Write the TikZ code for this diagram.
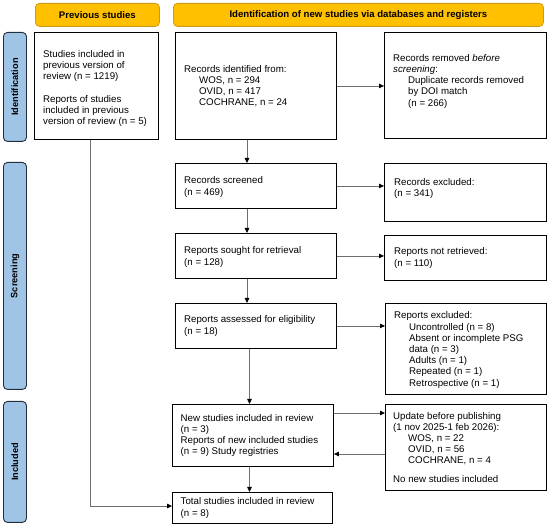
\documentclass[tikz,border=0pt]{standalone}
\usepackage{fontspec}
\setmainfont{Liberation Sans}
\usetikzlibrary{arrows.meta}
\definecolor{hdrfill}{RGB}{255,192,0}
\definecolor{hdrline}{RGB}{205,155,25}
\definecolor{phfill}{RGB}{160,196,230}
\definecolor{phline}{RGB}{35,45,60}
\definecolor{conn}{RGB}{110,110,110}
\tikzset{
  box/.style={draw=black, line width=0.9pt, fill=white, inner sep=0pt, anchor=north west},
  hdr/.style={draw=hdrline, fill=hdrfill, line width=0.8pt, rounded corners=4pt, inner sep=0pt, anchor=north west,
    font=\fontsize{9.6pt}{11pt}\selectfont\bfseries},
  phase/.style={draw=phline, fill=phfill, line width=0.9pt, rounded corners=4pt, inner sep=0pt, anchor=north west},
  phtxt/.style={rotate=90, font=\fontsize{9.2pt}{11pt}\selectfont\bfseries, inner sep=0pt},
  txt/.style={align=left, inner sep=0pt, font=\fontsize{9.7pt}{11.2pt}\selectfont},
  arr/.style={draw=conn, line width=0.8pt, -{Triangle[length=5pt,width=4.5pt,color=black]}},
}
\newcommand{\ind}{\hspace*{15pt}}
\begin{document}
\begin{tikzpicture}[x=1pt,y=-1pt]
\useasboundingbox (0,0) rectangle (550,526);
% headers
\node[hdr, minimum width=124pt, minimum height=23pt] (hprev) at (35,3) {Previous studies};
\node[hdr, minimum width=370pt, minimum height=23pt] (hnew) at (173,3) {Identification of new studies via databases and registers};
% phases
\node[phase, minimum width=23pt, minimum height=109pt] (pid) at (3,32) {};
\node[phtxt] (pidt) at (pid.center) {Identification};
\node[phase, minimum width=23pt, minimum height=227pt] (psc) at (3,162) {};
\node[phtxt] (psct) at (psc.center) {Screening};
\node[phase, minimum width=23pt, minimum height=121pt] (pin) at (3,401) {};
\node[phtxt] (pint) at (pin.center) {Included};
% boxes
\node[box, minimum width=124pt, minimum height=107pt] (prev) at (34,32) {};
\node[box, minimum width=161pt, minimum height=107pt] (ident) at (175,32) {};
\node[box, minimum width=162pt, minimum height=106pt] (removed) at (384,32) {};
\node[box, minimum width=161pt, minimum height=45pt] (screened) at (175,163) {};
\node[box, minimum width=162pt, minimum height=58pt] (excl) at (384,163) {};
\node[box, minimum width=161pt, minimum height=45pt] (sought) at (175,233) {};
\node[box, minimum width=162pt, minimum height=45pt] (notret) at (384,235) {};
\node[box, minimum width=161pt, minimum height=45pt] (assessed) at (175,303) {};
\node[box, minimum width=161pt, minimum height=91pt] (repexcl) at (385,303) {};
\node[box, minimum width=161pt, minimum height=62pt] (newst) at (172,404) {};
\node[box, minimum width=161pt, minimum height=86pt] (update) at (385,404) {};
\node[box, minimum width=160pt, minimum height=31pt] (total) at (172,492) {};
% texts
\node[txt, anchor=west] (prevt) at ([xshift=9pt,yshift=-2.5pt]prev.west) {Studies included in\\previous version of\\review (n = 1219)\\[11.5pt]Reports of studies\\included in previous\\version of review (n = 5)};
\node[txt, anchor=west] (identt) at ([xshift=9pt]ident.west) {Records identified from:\\\ind WOS, n = 294\\\ind OVID, n = 417\\\ind COCHRANE, n = 24};
\node[txt, anchor=north west] (removedt) at ([xshift=9pt,yshift=-22pt]removed.north west) {Records removed \textit{before}\\\textit{screening}:\\\ind Duplicate records removed\\\ind by DOI match\\\ind (n = 266)};
\node[txt, anchor=west] (screenedt) at ([xshift=9pt,yshift=-1pt]screened.west) {Records screened\\(n = 469)};
\node[txt, anchor=north west] (exclt) at ([xshift=10pt,yshift=-15.5pt]excl.north west) {Records excluded:\\(n = 341)};
\node[txt, anchor=west] (soughtt) at ([xshift=9pt,yshift=-1pt]sought.west) {Reports sought for retrieval\\(n = 128)};
\node[txt, anchor=west] (notrett) at ([xshift=10pt]notret.west) {Reports not retrieved:\\(n = 110)};
\node[txt, anchor=west] (assessedt) at ([xshift=9pt]assessed.west) {Reports assessed for eligibility\\(n = 18)};
\node[txt, anchor=west] (repexclt) at ([xshift=9pt,yshift=-1pt]repexcl.west) {Reports excluded:\\\ind Uncontrolled (n = 8)\\\ind Absent or incomplete PSG\\\ind data (n = 3)\\\ind Adults (n = 1)\\\ind Repeated (n = 1)\\\ind Retrospective (n = 1)};
\node[txt, anchor=west] (newstt) at ([xshift=8.5pt]newst.west) {New studies included in review\\(n = 3)\\Reports of new included studies\\(n = 9) Study registries};
\node[txt, anchor=west] (updatet) at ([xshift=8pt]update.west) {Update before publishing\\(1 nov 2025-1 feb 2026):\\\ind WOS, n = 22\\\ind OVID, n = 56\\\ind COCHRANE, n = 4\\[7.5pt]No new studies included};
\node[txt, anchor=west] (totalt) at ([xshift=8.5pt]total.west) {Total studies included in review\\(n = 8)};
% spine coordinates
\coordinate (sp1) at (247,0);
\coordinate (sp2) at (249.5,0);
\coordinate (spp) at (90,0);
\coordinate (upA) at (0,413);
\coordinate (upB) at (0,454);
\coordinate (prvY) at (0,506);
% connectors
\draw[arr] (ident.south -| sp1) -- (screened.north -| sp1);
\draw[arr] (screened.south -| sp1) -- (sought.north -| sp1);
\draw[arr] (sought.south -| sp1) -- (assessed.north -| sp1);
\draw[arr] (assessed.south -| sp2) -- (newst.north -| sp2);
\draw[arr] (newst.south -| sp2) -- (total.north -| sp2);
\draw[arr] (ident.east) -- (ident.east -| removed.west);
\draw[arr] (screened.east) -- (screened.east -| excl.west);
\draw[arr] (sought.east) -- (sought.east -| notret.west);
\draw[arr] (assessed.east) -- (assessed.east -| repexcl.west);
\draw[arr] (newst.east |- upA) -- (update.west |- upA);
\draw[arr] (update.west |- upB) -- (newst.east |- upB);
\draw[arr] (prev.south -| spp) -- (spp |- prvY) -- (total.west |- prvY);
\end{tikzpicture}
\end{document}
